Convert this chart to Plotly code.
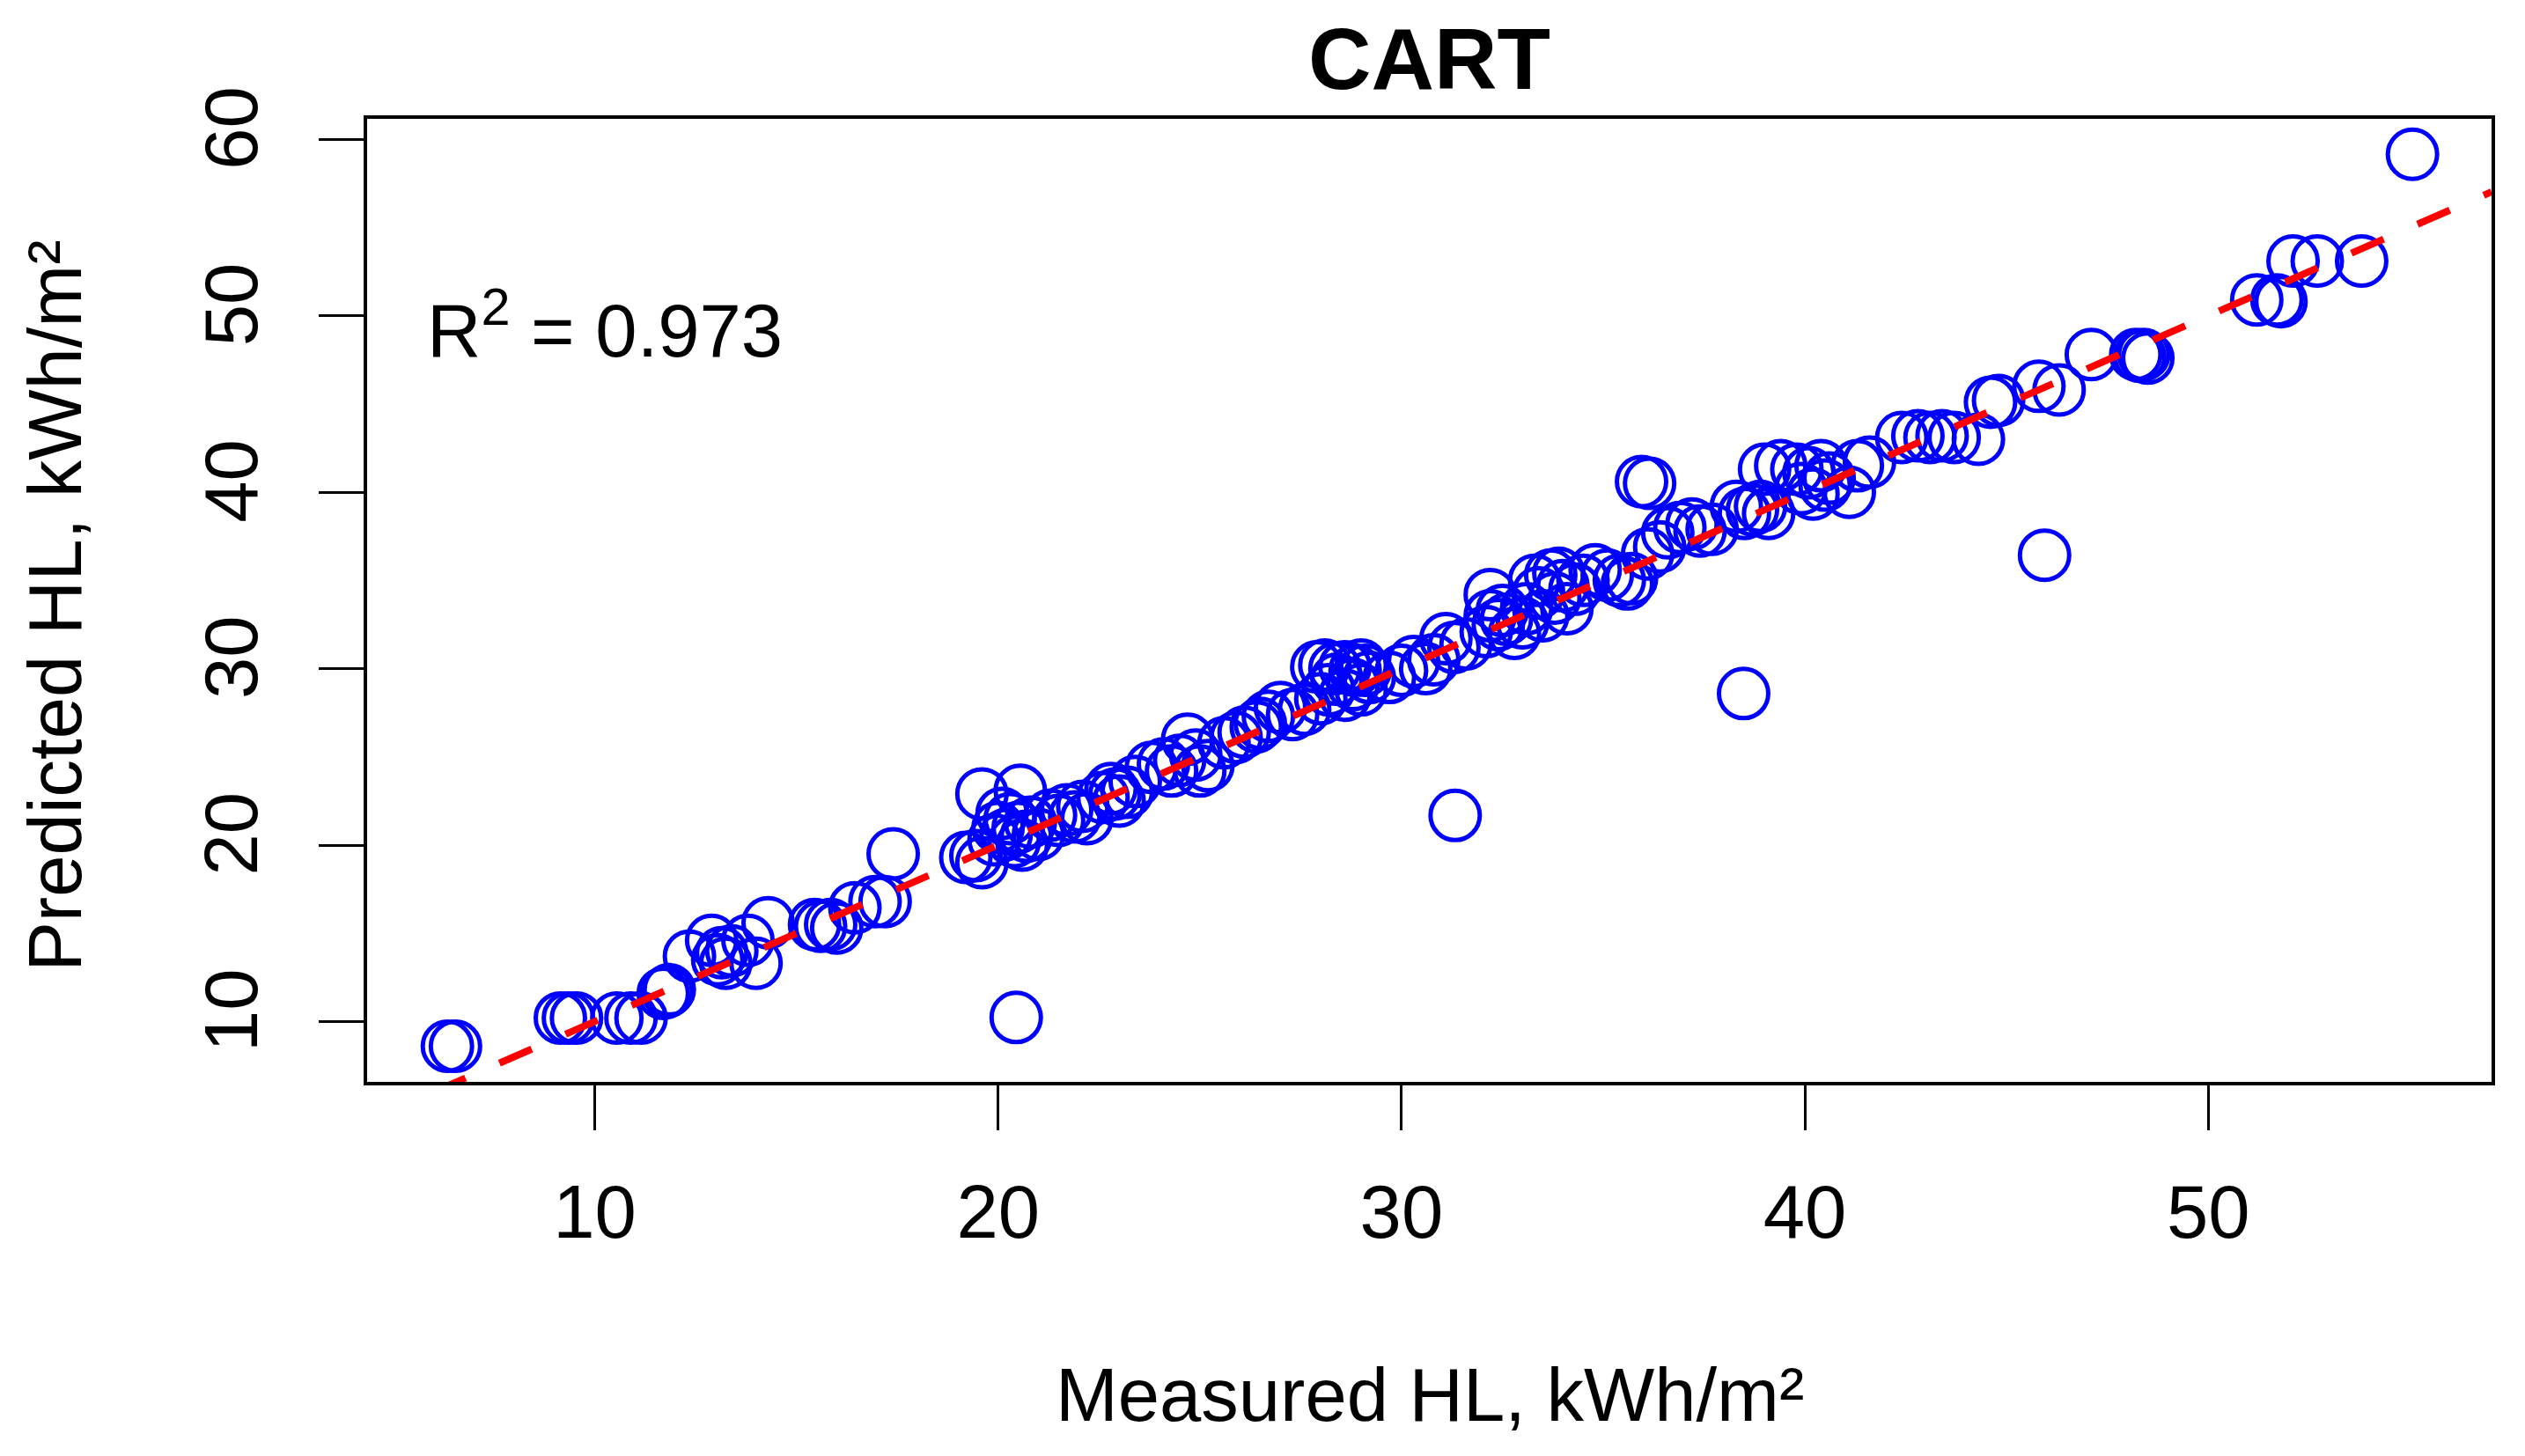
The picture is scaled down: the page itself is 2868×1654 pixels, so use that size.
import plotly.graph_objects as go

# Measured vs predicted heating load (kWh/m^2)
measured = [
    6.35, 6.55,
    9.15, 9.35, 9.55,
    10.55, 10.9, 11.15,
    11.7, 11.85, 11.8,
    12.35, 12.9, 13.05, 13.25, 13.4, 13.8, 14.0, 14.3, 13.15,
    15.45, 15.6, 15.85, 16.0,
    16.45, 16.95, 17.2, 17.4,
    19.2, 19.45, 19.6,
    19.6, 20.55,
    19.9, 20.0, 20.2, 20.3, 20.4, 20.5, 20.7, 20.8, 21.0, 20.1, 20.6,
    20.45,
    21.3, 21.5, 21.7, 21.9, 22.1, 22.2,
    22.6, 22.8, 23.0, 23.2, 23.4, 22.9,
    23.8, 24.1, 24.3, 24.5, 24.7, 24.9, 25.0, 25.2,
    25.6, 25.9, 26.1, 26.4, 26.5, 26.7, 27.0,
    27.3, 27.6,
    27.9, 28.1, 28.35, 28.6, 28.85, 29.0, 28.2, 28.4, 28.6, 28.8, 29.0, 29.2, 28.0, 29.1,
    29.7, 30.0, 30.3, 30.6, 30.8,
    31.1, 31.3, 31.6,
    31.33,
    32.2, 32.2, 32.4, 32.6, 32.8, 33.0, 32.1, 32.5,
    33.1, 33.3, 33.5, 33.7, 33.8, 34.0, 34.1, 34.3, 34.5, 33.9, 33.4,
    34.8, 35.1, 35.4, 35.7, 35.6,
    35.95, 36.15,
    36.1, 36.4, 36.6, 36.9, 37.2,
    37.4, 37.7, 38.3, 38.5, 38.7, 38.9, 39.1,
    38.48,
    39.0, 39.4, 39.8, 40.1, 40.4, 39.9, 40.2, 40.5, 41.1, 41.3, 41.6, 40.6,
    42.4, 42.8, 43.1, 43.4, 43.7, 44.3,
    44.6, 44.8,
    45.8, 46.3,
    45.94,
    47.1,
    48.2, 48.3, 48.4, 48.5,
    51.2, 51.7, 51.8,
    52.1, 52.7, 53.8,
    55.06,
]

predicted = [
    8.6, 8.6,
    10.2, 10.2, 10.2,
    10.2, 10.2, 10.2,
    11.6, 11.8, 11.7,
    13.7, 14.6, 13.5, 13.3, 14.0, 14.6, 13.3, 15.6, 13.9,
    15.5, 15.4, 15.5, 15.3,
    16.45, 16.8, 16.8, 19.5,
    19.3, 19.4, 19.0,
    22.9, 23.1,
    20.3, 21.0, 20.6, 21.5, 20.2, 21.0, 20.5, 21.3, 20.6, 21.8, 20.0,
    10.23,
    21.7, 21.4, 22.0, 21.6, 22.2, 21.5,
    22.7, 23.2, 22.5, 23.0, 23.6, 22.9,
    24.4, 24.6, 24.2, 24.8, 26.0, 25.1, 24.2, 24.5,
    25.8, 26.1, 26.4, 26.7, 26.9, 27.3, 27.8,
    27.4, 27.7,
    30.1, 30.2, 30.0, 30.1, 29.9, 30.2, 28.8, 29.4, 28.5, 29.1, 28.8, 29.5, 28.3, 29.9,
    29.5, 29.9, 30.4, 30.0, 30.5,
    31.7, 31.2, 31.4,
    21.68,
    34.2, 33.0, 32.5, 32.8, 32.0, 32.6, 32.1, 33.3,
    33.4, 35.0, 33.0, 35.3, 34.0, 34.7, 33.4, 34.5, 35.0, 35.4, 34.3,
    35.6, 35.3, 35.0, 35.1, 34.8,
    40.6, 40.5,
    36.5, 36.9, 37.7, 38.0, 38.2,
    37.8, 37.9, 39.2, 38.8, 39.0, 39.2, 38.8,
    28.59,
    41.3, 41.5, 41.3, 41.1, 41.5, 40.2, 39.9, 40.4, 40.0, 41.5, 41.7, 40.8,
    43.1, 43.2, 43.1, 43.2, 43.1, 43.0,
    45.1, 45.2,
    46.0, 45.8,
    36.43,
    47.8,
    47.8, 47.7, 47.8, 47.6,
    50.9, 50.9, 50.8,
    53.1, 53.1, 53.1,
    59.15,
]

x_ticks = [10, 20, 30, 40, 50]
y_ticks = [10, 20, 30, 40, 50, 60]
x_range = [4.36, 57.02]
y_range = [6.58, 61.16]

title_text = "<b>CART</b>"
x_title = "Measured HL, kWh/m²"
y_title = "Predicted HL, kWh/m²"
r2_text = "R<sup>2</sup> = 0.973"

FONT = "Liberation Sans, Arial, Helvetica, sans-serif"

fig = go.Figure()
fig.add_trace(go.Scatter(
    x=measured, y=predicted, mode="markers",
    marker=dict(symbol="circle-open", size=56, color="#0000FF",
                line=dict(width=5, color="#0000FF")),
    showlegend=False, hoverinfo="skip",
))
# identity line y = x across the whole plotting region
fig.add_trace(go.Scatter(
    x=x_range, y=x_range, mode="lines",
    line=dict(color="#FF0000", width=8, dash="40px,42px"),
    showlegend=False, hoverinfo="skip",
))

axis_common = dict(
    showline=True, mirror=True, linecolor="black", linewidth=4,
    ticks="outside", ticklen=51, tickwidth=3, tickcolor="black",
    showgrid=False, zeroline=False,
    tickfont=dict(family=FONT, size=85, color="black"),
)

fig.update_xaxes(range=x_range, tickvals=x_ticks, ticklabelstandoff=20, **axis_common)
fig.update_yaxes(range=y_range, tickvals=y_ticks, tickangle=-90, ticklabelstandoff=36, **axis_common)

fig.update_layout(
    width=2860, height=1646, autosize=False,
    margin=dict(l=409, r=38, t=127, b=425, pad=0),
    paper_bgcolor="white", plot_bgcolor="white",
    font=dict(family=FONT, color="black"),
    title=dict(text=title_text, x=0.5, xanchor="center", xref="paper",
               y=1 - 58 / 1646, yanchor="middle", yref="container",
               font=dict(family=FONT, size=99, color="black")),
    annotations=[
        dict(text=x_title, xref="paper", yref="paper", x=0.5, y=-0.325,
             xanchor="center", yanchor="middle", showarrow=False,
             font=dict(family=FONT, size=85, color="black")),
        dict(text=y_title, xref="paper", yref="paper", x=-0.147, y=0.494,
             xanchor="center", yanchor="middle", textangle=-90, showarrow=False,
             font=dict(family=FONT, size=85, color="black")),
        dict(text=r2_text, xref="paper", yref="paper", x=0.0275, y=0.786,
             xanchor="left", yanchor="middle", showarrow=False,
             font=dict(family=FONT, size=85, color="black")),
    ],
)

fig.write_html("out.html")
